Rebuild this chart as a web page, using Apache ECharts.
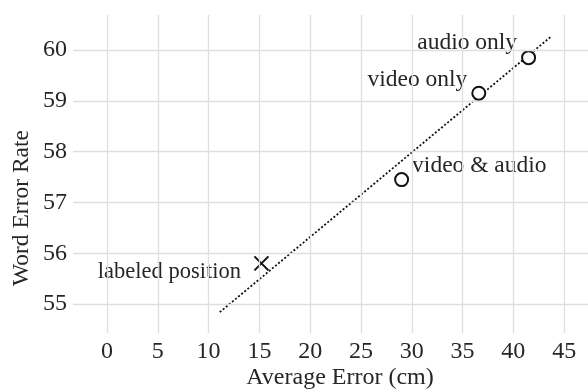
<!DOCTYPE html>
<html>
<head>
<meta charset="utf-8">
<script src="https://cdn.jsdelivr.net/npm/echarts@6/dist/echarts.min.js"></script>
<style>
  html, body { margin: 0; padding: 0; background: #fff; }
  #chart { width: 588px; height: 390px; }
</style>
</head>
<body>
<div id="chart"></div>
<script>
// Condition names and their (average error, word error rate) results
const conditions = ['audio only', 'video only', 'video & audio'];
const avgError = [41.5, 36.6, 29.0];
const wordErrorRate = [59.85, 59.15, 57.45];

// Reference condition drawn with a cross
const refName = 'labeled position';
const refAvgError = 15.2;
const refWordErrorRate = 55.8;

// Linear trend drawn as a dotted line (end points)
const trendX = [11.1, 43.8];
const trendY = [54.84, 60.28];

// Tick values
const xTicks = [0, 5, 10, 15, 20, 25, 30, 35, 40, 45];
const yTicks = [55, 56, 57, 58, 59, 60];

const FONT = '"Liberation Serif", "DejaVu Serif", serif';
const INK = '#262626';
const GRID = '#e0dde4';

// label placement for each condition: [side, distance, dy]
const labelPlace = [
  ['left', 4, -15],
  ['left', 4, -13],
  ['right', 3, -14]
];

const chart = echarts.init(document.getElementById('chart'), null, { renderer: 'canvas' });

const circleData = conditions.map((name, i) => ({
  name,
  value: [avgError[i], wordErrorRate[i]],
  label: {
    show: true,
    formatter: name,
    position: labelPlace[i][0],
    distance: labelPlace[i][1],
    offset: [0, labelPlace[i][2]]
  }
}));

const gridX = xTicks.map(v => ({ xAxis: v }));
const gridY = yTicks.map(v => ({ yAxis: v }));

chart.setOption({
  animation: false,
  backgroundColor: '#fff',
  textStyle: { fontFamily: FONT },
  grid: { left: 73, right: 0, top: 15, bottom: 57, containLabel: false, outerBoundsMode: 'none' },
  xAxis: {
    type: 'value',
    min: -3.35,
    max: 47.35,
    axisLine: { show: false },
    axisTick: { show: false, customValues: xTicks },
    splitLine: { show: false },
    axisLabel: {
      customValues: xTicks,
      color: INK,
      fontFamily: FONT,
      fontSize: 24,
      margin: 7
    },
    name: 'Average Error (cm)',
    nameLocation: 'middle',
    nameGap: 33,
    nameMoveOverlap: false,
    nameTextStyle: { color: INK, fontFamily: FONT, fontSize: 24, padding: [0, 0, 0, 19] }
  },
  yAxis: {
    type: 'value',
    min: 54.43,
    max: 60.69,
    axisLine: { show: false },
    axisTick: { show: false, customValues: yTicks },
    splitLine: { show: false },
    axisLabel: {
      customValues: yTicks,
      color: INK,
      fontFamily: FONT,
      fontSize: 24,
      margin: 6
    },
    name: 'Word Error Rate',
    nameLocation: 'middle',
    nameGap: 39,
    nameMoveOverlap: false,
    nameTextStyle: { color: INK, fontFamily: FONT, fontSize: 23.5, padding: [0, 68, 0, 0] }
  },
  series: [
    {
      // grid lines at the tick values
      type: 'line',
      data: [],
      z: 1,
      silent: true,
      markLine: {
        silent: true,
        symbol: 'none',
        label: { show: false },
        lineStyle: { color: GRID, width: 1.3, type: 'solid' },
        data: gridX.concat(gridY)
      }
    },
    {
      type: 'line',
      z: 3,
      symbol: 'none',
      silent: true,
      data: trendX.map((x, i) => [x, trendY[i]]),
      lineStyle: { color: '#111', width: 1.8, type: [2, 2] }
    },
    {
      type: 'scatter',
      z: 4,
      symbol: 'circle',
      symbolSize: 13,
      itemStyle: { color: '#fff', borderColor: '#111', borderWidth: 2, opacity: 1 },
      label: { color: INK, fontFamily: FONT, fontSize: 23.5 },
      data: circleData
    },
    {
      type: 'scatter',
      z: 4,
      symbol: 'path://M0,0L10,10M10,0L0,10',
      symbolSize: 14,
      itemStyle: { color: 'none', borderColor: '#111', borderWidth: 2, opacity: 1 },
      label: {
        show: true,
        formatter: refName,
        position: 'left',
        distance: 11,
        offset: [0, 9],
        color: INK,
        fontFamily: FONT,
        fontSize: 22.5
      },
      data: [[refAvgError, refWordErrorRate]]
    }
  ]
});
</script>
</body>
</html>
